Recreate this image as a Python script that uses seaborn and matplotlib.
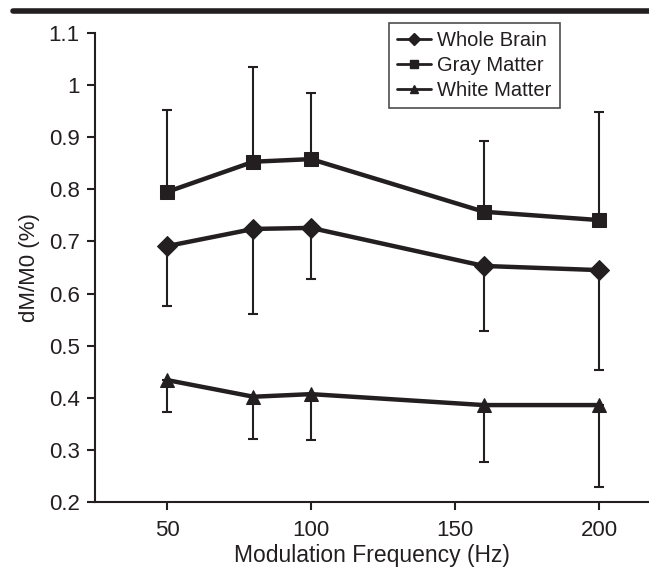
import pandas as pd
import numpy as np
import seaborn as sns
import matplotlib.pyplot as plt
from matplotlib.lines import Line2D

freq = [50, 80, 100, 160, 200]

whole_brain = [0.691, 0.724, 0.726, 0.653, 0.645]
whole_brain_low = [0.576, 0.561, 0.628, 0.528, 0.453]

gray_matter = [0.795, 0.853, 0.858, 0.757, 0.741]
gray_matter_high = [0.952, 1.035, 0.985, 0.893, 0.949]

white_matter = [0.434, 0.402, 0.407, 0.386, 0.386]
white_matter_low = [0.373, 0.321, 0.319, 0.277, 0.229]

labels = ['Whole Brain', 'Gray Matter', 'White Matter']

sns.set_style('ticks')
plt.rcParams['font.family'] = ['Liberation Sans', 'DejaVu Sans']
ink = '#231f20'

df = pd.DataFrame({
    'freq': freq * 3,
    'value': whole_brain + gray_matter + white_matter,
    'tissue': [labels[0]] * 5 + [labels[1]] * 5 + [labels[2]] * 5,
})

fig = plt.figure(figsize=(6.49, 5.72), dpi=100)
ax = fig.add_axes([95 / 649, 70 / 572, 553 / 649, 469 / 572])

# one-sided error bars, drawn under the lines
wb = np.array(whole_brain)
gm = np.array(gray_matter)
wm = np.array(white_matter)
zeros = np.zeros(5)
ax.errorbar(freq, wb, yerr=[wb - np.array(whole_brain_low), zeros], fmt='none',
            ecolor=ink, elinewidth=1.5, capsize=3.5, capthick=1.5, zorder=1)
ax.errorbar(freq, gm, yerr=[zeros, np.array(gray_matter_high) - gm], fmt='none',
            ecolor=ink, elinewidth=1.5, capsize=3.5, capthick=1.5, zorder=1)
ax.errorbar(freq, wm, yerr=[wm - np.array(white_matter_low), zeros], fmt='none',
            ecolor=ink, elinewidth=1.5, capsize=3.5, capthick=1.5, zorder=1)

sns.lineplot(data=df, x='freq', y='value', hue='tissue', style='tissue',
             palette=[ink] * 3, markers={labels[0]: 'D', labels[1]: 's', labels[2]: '^'},
             dashes=False, linewidth=3.2, markersize=10, markeredgecolor=ink,
             legend=False, ax=ax, zorder=3)

ax.set_xlim(25, 217)
ax.set_ylim(0.2, 1.1)
ax.set_xticks([50, 100, 150, 200])
ax.set_yticks([0.2, 0.3, 0.4, 0.5, 0.6, 0.7, 0.8, 0.9, 1.0, 1.1])
ax.set_yticklabels(['0.2', '0.3', '0.4', '0.5', '0.6', '0.7', '0.8', '0.9', '1', '1.1'])
ax.tick_params(axis='both', labelsize=16, colors=ink, width=1.5, length=6)
ax.tick_params(axis='x', pad=7)
ax.tick_params(axis='y', pad=5)
ax.set_xlabel('Modulation Frequency (Hz)', fontsize=16.5, color=ink, labelpad=2)
ax.set_ylabel('dM/M0 (%)', fontsize=16, color=ink, labelpad=6)

for side in ['top', 'right']:
    ax.spines[side].set_visible(False)
for side in ['left', 'bottom']:
    ax.spines[side].set_linewidth(1.5)
    ax.spines[side].set_color(ink)

handles = [
    Line2D([], [], color=ink, linewidth=2, marker='D', markersize=6),
    Line2D([], [], color=ink, linewidth=2, marker='s', markersize=6),
    Line2D([], [], color=ink, linewidth=2, marker='^', markersize=6),
]
leg = ax.legend(handles, labels, loc='upper left', bbox_to_anchor=(389 / 649, 1 - 23 / 572),
                bbox_transform=fig.transFigure, fontsize=14.5, frameon=True, fancybox=False,
                handlelength=1.7, handletextpad=0.3, labelspacing=0.3, borderpad=0.4,
                borderaxespad=0)
leg.get_frame().set_edgecolor(ink)
leg.get_frame().set_linewidth(1.2)
for t in leg.get_texts():
    t.set_color(ink)

# thick rule across the top of the figure
fig.add_artist(Line2D([13 / 649, 1], [1 - 11 / 572, 1 - 11 / 572], color=ink,
                      linewidth=4, transform=fig.transFigure))

fig.savefig('out.png', dpi=100)
